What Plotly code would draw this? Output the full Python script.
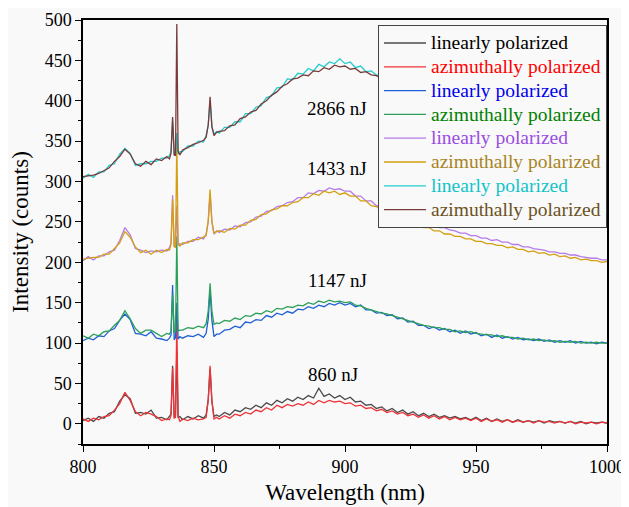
import plotly.graph_objects as go

# ---------------- data ----------------
wl_a = [800, 802, 804, 806, 808, 810, 812, 814, 816, 818, 820, 822, 824, 826, 828, 830]
wl_b = [832, 833, 833.6, 834.2, 834.8, 835.3, 835.8, 836.3, 837, 838]
wl_c = [840, 842, 844, 846, 847, 847.8, 848.5, 849.2, 850, 851]
wl_d = list(range(852, 1001, 2))
wavelength = wl_a + wl_b + wl_c + wl_d

lin_860 = [4, 7, 3, 9, 7, 13, 15, 28, 36, 31, 13, 14, 12, 17, 7, 8,
           5, 9, 12, 72, 8, 10, 90, 8, 9, 5,
           9, 6, 10, 7, 11, 30, 68, 28, 9, 11,
           9, 14, 11, 17, 15, 20, 18, 23, 20, 26, 23, 29, 26, 31, 28,
           33, 30, 35, 32, 44, 34, 37, 32, 35, 30, 33, 27, 28, 23, 24,
           19, 21, 16, 19, 14, 17, 12, 15, 10, 13, 9, 12, 8, 10, 7,
           9, 6, 8, 5, 8, 4, 7, 3, 6, 3, 5, 2, 5, 2, 4,
           2, 4, 1, 4, 2, 3, 1, 3, 1, 3, 0, 2, 1, 2, 1]
azi_860 = [6, 3, 7, 5, 9, 10, 17, 25, 39, 29, 15, 10, 14, 12, 9, 4,
           6, 5, 10, 69, 7, 8, 128, 9, 3, 6,
           4, 7, 5, 6, 8, 30, 72, 28, 6, 8,
           6, 10, 7, 12, 10, 14, 12, 17, 15, 20, 17, 23, 20, 24, 22,
           25, 23, 27, 24, 29, 26, 29, 27, 28, 25, 26, 22, 23, 19, 20,
           16, 18, 14, 16, 12, 14, 10, 12, 8, 11, 7, 10, 6, 9, 5,
           8, 5, 7, 4, 7, 3, 6, 3, 5, 2, 5, 2, 4, 2, 4,
           1, 4, 2, 3, 1, 3, 1, 3, 0, 2, 1, 2, 0, 2, 1]
lin_1147 = [103, 106, 104, 109, 108, 115, 118, 128, 136, 129, 112, 111, 109, 114, 106, 105,
            103, 106, 110, 172, 104, 107, 150, 105, 108, 106,
            109, 108, 111, 107, 112, 130, 165, 128, 108, 111,
            111, 116, 117, 121, 119, 126, 125, 129, 128, 134, 132, 137, 135, 139, 137,
            142, 141, 145, 143, 147, 145, 149, 147, 150, 147, 149, 145, 147, 141, 141,
            137, 138, 134, 135, 130, 131, 126, 127, 122, 122, 118, 120, 116, 118, 114,
            116, 112, 115, 111, 113, 109, 111, 107, 110, 106, 108, 105, 107, 104, 105,
            103, 105, 102, 104, 101, 103, 101, 103, 100, 102, 100, 101, 99, 101, 100]
azi_1147 = [109, 106, 111, 109, 114, 115, 122, 128, 140, 130, 118, 112, 116, 116, 112, 108,
            112, 111, 115, 160, 113, 114, 232, 115, 116, 116,
            119, 118, 121, 119, 124, 140, 174, 140, 123, 125,
            124, 128, 127, 131, 129, 134, 133, 137, 136, 140, 138, 143, 142, 145, 144,
            147, 146, 150, 148, 152, 150, 153, 151, 152, 150, 151, 147, 146, 143, 141,
            139, 137, 136, 134, 132, 130, 128, 126, 124, 122, 121, 119, 119, 117, 117,
            114, 115, 113, 114, 112, 111, 110, 110, 108, 109, 107, 107, 105, 106, 104,
            105, 103, 104, 102, 103, 101, 102, 101, 102, 100, 101, 100, 101, 100, 100]
lin_1433 = [202, 207, 203, 208, 208, 213, 215, 227, 243, 234, 217, 215, 212, 214, 213, 215,
            214, 218, 224, 283, 219, 221, 270, 221, 223, 222,
            226, 226, 231, 229, 235, 250, 285, 250, 235, 239,
            237, 241, 240, 245, 244, 249, 250, 256, 257, 263, 264, 269, 270, 274, 275,
            280, 280, 286, 285, 289, 288, 292, 290, 291, 288, 288, 282, 282, 276, 276,
            270, 270, 264, 265, 259, 260, 254, 255, 250, 250, 246, 247, 243, 243, 240,
            239, 236, 236, 233, 233, 230, 230, 227, 228, 225, 225, 222, 222, 219, 219,
            217, 216, 215, 213, 213, 211, 211, 209, 209, 207, 206, 205, 205, 203, 203]
azi_1433 = [204, 205, 206, 206, 210, 210, 217, 224, 238, 231, 219, 212, 215, 210, 215, 212,
            216, 215, 222, 278, 220, 218, 350, 223, 220, 224,
            224, 228, 228, 232, 233, 252, 290, 250, 236, 238,
            239, 237, 242, 241, 246, 246, 252, 253, 259, 260, 265, 266, 270, 270, 274,
            275, 280, 280, 285, 283, 288, 286, 288, 284, 286, 282, 282, 276, 276, 270,
            269, 264, 263, 259, 257, 253, 251, 248, 247, 243, 243, 239, 239, 235, 235,
            232, 232, 229, 229, 226, 226, 223, 223, 221, 221, 218, 219, 216, 216, 213,
            214, 211, 212, 209, 210, 207, 208, 205, 206, 203, 204, 202, 202, 200, 201]
lin_2866 = [304, 309, 305, 312, 312, 320, 322, 334, 341, 335, 320, 322, 322, 325, 325, 329,
            329, 332, 338, 375, 333, 336, 360, 334, 337, 337,
            344, 344, 350, 349, 357, 370, 400, 368, 359, 362,
            360, 367, 367, 374, 374, 384, 384, 392, 394, 404, 406, 416, 417, 427, 426,
            434, 433, 440, 437, 445, 442, 448, 446, 452, 446, 448, 441, 443, 436, 437,
            432, 430, 427, 424, 421, 418, 414, 411, 407, 404, 400, 397, 393, 390, 386,
            383, 379, 376, 373, 370, 367, 364, 361, 358, 356, 353, 351, 348, 346, 344,
            342, 340, 338, 336, 334, 332, 330, 329, 327, 326, 324, 323, 322, 321, 320]
azi_2866 = [306, 307, 308, 310, 314, 317, 325, 331, 340, 334, 322, 319, 325, 321, 328, 326,
            331, 328, 335, 380, 333, 332, 495, 337, 333, 339,
            342, 346, 348, 351, 355, 370, 405, 368, 357, 361,
            362, 363, 369, 370, 378, 380, 386, 388, 396, 400, 407, 411, 418, 421, 427,
            428, 432, 431, 437, 436, 441, 439, 444, 442, 443, 439, 440, 435, 436, 432,
            431, 427, 425, 421, 419, 414, 411, 407, 403, 399, 395, 391, 387, 383, 380,
            376, 372, 369, 366, 363, 359, 357, 354, 351, 348, 346, 343, 341, 339, 337,
            335, 333, 331, 329, 328, 326, 325, 323, 322, 321, 320, 319, 318, 317, 316]

series = [lin_860, azi_860, lin_1147, azi_1147, lin_1433, azi_1433, lin_2866, azi_2866]
series_names = ["linearly polarized", "azimuthally polarized"] * 4
line_colors = ["#4a4a4a", "#ee3338", "#1f5fd6", "#2ca05a",
               "#b57be8", "#d4a012", "#22cccc", "#7a3a3a"]
text_colors = ["#000000", "#ff0000", "#0000ee", "#008000",
               "#9a4de0", "#a88424", "#10c4c8", "#6b5223"]

energy_labels = ["860 nJ", "1147 nJ", "1433 nJ", "2866 nJ"]
label_x = [895.5, 897, 897, 897]
label_y = [61, 178, 316, 391]

x_ticks = [800, 850, 900, 950, 1000]
y_ticks = [0, 50, 100, 150, 200, 250, 300, 350, 400, 450, 500]

FONT = "Liberation Serif"
BG = "#f9f9f9"

fig = go.Figure()
for vals, nm, lc, tc in zip(series, series_names, line_colors, text_colors):
    fig.add_trace(go.Scatter(
        x=wavelength, y=vals, mode="lines",
        name=f'<span style="color:{tc};font-size:19.5px">{nm}</span>',
        line=dict(color=lc, width=1.3),
    ))

for t, xx, yy in zip(energy_labels, label_x, label_y):
    fig.add_annotation(x=xx, y=yy, text=t, showarrow=False,
                       font=dict(family=FONT, size=19, color="black"))

axis_common = dict(
    showline=True, linecolor="black", linewidth=1.5, mirror=True,
    ticks="outside", ticklen=6, tickwidth=1.2, tickcolor="black",
    showgrid=False, zeroline=False, automargin=False,
    tickfont=dict(family=FONT, size=18, color="black"),
)

# the page body adds an 8px offset, so the figure is 8px smaller on each side
fig.update_layout(
    width=621, height=499,
    margin=dict(l=75, r=22, t=12, b=63),
    paper_bgcolor=BG, plot_bgcolor=BG,
    font=dict(family=FONT, color="black"),
    showlegend=True,
    legend=dict(
        x=1, xanchor="right", y=0.988, yanchor="top",
        bgcolor=BG, bordercolor="#444444", borderwidth=1,
        font=dict(family=FONT, size=16, color="black"),
        itemwidth=42, tracegroupgap=0,
    ),
    xaxis=dict(
        range=[800, 1000], tickvals=x_ticks, ticktext=[str(v) for v in x_ticks],
        minor=dict(dtick=25, ticklen=3, tickcolor="black", ticks="outside"),
        title=dict(text="Wavelength (nm)", font=dict(family=FONT, size=23), standoff=8),
        **axis_common,
    ),
    yaxis=dict(
        range=[-25, 500], tickvals=y_ticks, ticktext=[str(v) for v in y_ticks],
        minor=dict(dtick=25, ticklen=3, tickcolor="black", ticks="outside"),
        title=dict(text="Intensity (counts)", font=dict(family=FONT, size=23), standoff=18),
        **axis_common,
    ),
)

fig.write_html("out.html")
